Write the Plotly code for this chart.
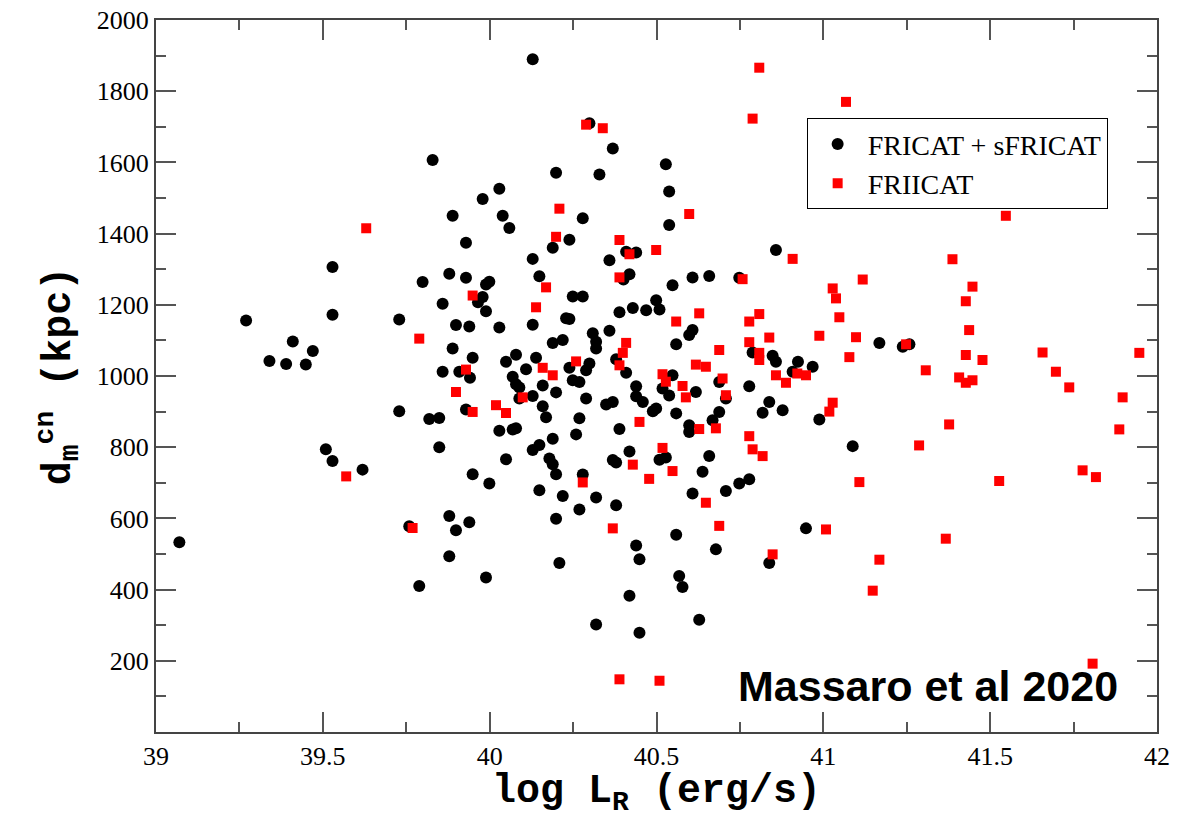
import plotly.graph_objects as go

# FRICAT + sFRICAT (black circles)
fri_logL = [39.829, 39.889, 39.929, 39.529, 39.799, 39.879, 39.929, 39.965, 39.859, 39.270,
            39.529, 39.729, 39.899, 39.939, 39.410, 39.470, 39.889, 39.949, 39.340, 39.390,
            39.449, 39.859, 39.909, 39.941, 39.729, 39.819, 39.849, 39.929, 39.509, 39.849,
            39.529, 39.619, 39.949, 39.879, 39.939, 39.759, 39.899, 39.879, 39.789, 39.070,
            40.129, 40.299, 40.369, 40.528, 40.199, 40.329, 40.029, 40.538, 39.979, 40.039,
            40.279, 40.059, 40.538, 40.239, 40.409, 40.439, 40.189, 40.359, 40.129, 40.858,
            40.149, 39.989, 39.999, 40.401, 40.419, 40.548, 40.608, 40.658, 40.748, 39.979,
            39.989, 40.249, 40.279, 40.389, 40.429, 40.469, 40.499, 40.509, 40.029, 40.129,
            40.229, 40.239, 40.359, 40.309, 40.319, 40.319, 40.559, 40.598, 40.608, 40.189,
            40.219, 40.788, 40.848, 40.858, 40.924, 40.049, 40.079, 40.139, 40.109, 40.239,
            40.299, 40.289, 40.379, 40.409, 40.548, 40.908, 40.069, 40.249, 40.269, 40.538,
            40.518, 40.618, 40.688, 40.708, 40.778, 40.079, 40.089, 40.089, 40.129, 40.159,
            40.199, 40.289, 40.439, 40.439, 40.459, 40.349, 40.369, 40.159, 40.169, 40.269,
            40.489, 40.499, 40.559, 40.688, 40.668, 40.818, 40.838, 40.878, 40.029, 40.069,
            40.079, 40.259, 40.389, 40.598, 40.598, 40.189, 40.129, 40.149, 40.179, 40.189,
            40.199, 40.049, 39.999, 40.419, 40.369, 40.379, 40.509, 40.528, 40.279, 40.658,
            40.638, 40.608, 40.708, 40.748, 40.778, 40.149, 40.219, 40.319, 40.269, 40.379,
            40.199, 40.559, 40.678, 40.838, 40.439, 40.449, 40.209, 39.989, 40.568, 40.578,
            40.419, 40.319, 40.628, 40.449, 41.168, 41.238, 41.258, 41.088, 40.988, 40.968,
            40.948]
fri_d = [1607, 1450, 1374, 1306, 1264, 1287, 1276, 1207, 1203, 1156,
         1172, 1159, 1143, 1139, 1097, 1070, 1077, 1051, 1042, 1034,
         1032, 1012, 1012, 995, 901, 879, 882, 906, 794, 800,
         761, 737, 724, 607, 589, 578, 567, 494, 410, 533,
         1890, 1710, 1639, 1595, 1571, 1566, 1526, 1518, 1497, 1450,
         1443, 1416, 1424, 1383, 1349, 1347, 1360, 1325, 1329, 1354,
         1280, 1257, 1265, 1271, 1286, 1255, 1277, 1281, 1276, 1222,
         1182, 1223, 1223, 1179, 1191, 1185, 1213, 1187, 1136, 1144,
         1162, 1160, 1127, 1120, 1096, 1077, 1089, 1115, 1129, 1093,
         1101, 1066, 1057, 1040, 1040, 1040, 1060, 1051, 1019, 1023,
         1035, 1016, 1047, 1009, 1002, 1012, 998, 988, 983, 945,
         965, 955, 983, 937, 971, 977, 968, 937, 944, 973,
         954, 937, 971, 943, 927, 920, 927, 915, 884, 881,
         901, 909, 895, 899, 876, 897, 927, 904, 846, 850,
         853, 836, 851, 862, 843, 824, 792, 806, 768, 752,
         724, 766, 698, 788, 764, 757, 765, 771, 723, 775,
         731, 670, 677, 698, 710, 679, 663, 659, 625, 637,
         599, 554, 513, 475, 524, 485, 475, 434, 438, 407,
         383, 302, 315, 279, 1093, 1082, 1089, 803, 878, 1026,
         572]

# FRIICAT (red squares)
frii_logL = [39.630, 39.949, 39.789, 39.929, 39.899, 39.949, 39.570, 39.769, 40.808, 40.289,
             40.339, 40.788, 40.209, 40.598, 40.199, 40.389, 40.419, 40.499, 40.908, 40.169,
             40.389, 40.758, 40.139, 40.559, 40.628, 40.778, 40.808, 40.838, 40.409, 40.399,
             40.688, 40.778, 40.808, 40.808, 40.159, 40.189, 40.259, 40.389, 40.518, 40.618,
             40.648, 40.858, 40.922, 40.698, 40.528, 40.578, 40.588, 40.708, 40.888, 40.099,
             40.019, 40.049, 40.449, 40.628, 40.678, 40.778, 40.788, 40.818, 40.429, 40.518,
             40.548, 40.478, 40.279, 40.648, 40.369, 40.688, 40.848, 40.389, 40.509, 41.547,
             41.118, 41.387, 41.028, 41.038, 41.447, 41.427, 41.048, 40.988, 41.098, 41.437,
             41.248, 41.078, 41.427, 41.477, 41.657, 41.947, 41.697, 41.737, 41.307, 41.407,
             41.427, 41.447, 41.897, 41.887, 41.377, 41.287, 41.527, 41.777, 41.817, 41.108,
             41.028, 41.018, 40.948, 41.008, 41.168, 41.148, 41.367, 41.807, 41.068]
frii_d = [1415, 1226, 1105, 1018, 955, 899, 718, 573, 1866, 1706,
          1696, 1723, 1470, 1455, 1391, 1382, 1342, 1354, 1329, 1249,
          1277, 1272, 1193, 1153, 1176, 1153, 1174, 1108, 1093, 1065,
          1073, 1095, 1065, 1045, 1023, 1002, 1041, 1030, 1005, 1032,
          1026, 1002, 1007, 993, 984, 972, 940, 946, 981, 940,
          918, 896, 871, 851, 853, 831, 794, 775, 751, 798,
          733, 711, 701, 644, 572, 579, 499, 148, 144, 1450,
          1271, 1328, 1246, 1218, 1251, 1210, 1165, 1113, 1109, 1129,
          1089, 1053, 1059, 1045, 1066, 1065, 1012, 968, 1016, 996,
          981, 988, 940, 850, 864, 805, 705, 735, 716, 702,
          925, 900, 1002, 569, 484, 397, 543, 192, 1770]

x_ticks = [39, 39.5, 40, 40.5, 41, 41.5, 42]
x_ticklabels = ["39", "39.5", "40", "40.5", "41", "41.5", "42"]
y_ticks = [200, 400, 600, 800, 1000, 1200, 1400, 1600, 1800, 2000]

fig = go.Figure()
fig.add_trace(go.Scatter(x=fri_logL, y=fri_d, mode="markers", name="FRICAT + sFRICAT",
                         marker=dict(symbol="circle", size=12, color="black", line=dict(width=0))))
fig.add_trace(go.Scatter(x=frii_logL, y=frii_d, mode="markers", name="FRIICAT",
                         marker=dict(symbol="square", size=10, color="#ff0000", line=dict(width=0))))

axis_common = dict(showgrid=False, zeroline=False, showline=True, linecolor="#444",
                   linewidth=2, ticks="inside", ticklen=20, tickwidth=2, tickcolor="#555",
                   mirror="ticks", automargin=False,
                   tickfont=dict(family="Liberation Serif, Times New Roman, serif", size=26, color="black"))

fig.update_xaxes(range=[39, 42], tickvals=x_ticks, ticktext=x_ticklabels,
                 minor=dict(ticks="inside", ticklen=10, tickwidth=2, tickcolor="#555", dtick=0.25, tick0=39),
                 title=dict(text="<b>log L<sub>R</sub> (erg/s)</b>",
                            font=dict(family="Liberation Mono", size=40, color="black"), standoff=2),
                 **axis_common)
fig.update_yaxes(range=[0, 2000], tickvals=y_ticks,
                 minor=dict(ticks="inside", ticklen=10, tickwidth=2, tickcolor="#555", dtick=100, tick0=0),
                 title=dict(text="<b>d<sub>m</sub><sup>cn</sup> (kpc)</b>",
                            font=dict(family="Liberation Mono", size=40, color="black"), standoff=14),
                 **axis_common)

fig.add_annotation(x=1.0 - (1157 - 1120) / 1001, y=(731.7 - 686) / 711.7, xref="paper", yref="paper",
                   text="<b>Massaro et al 2020</b>", showarrow=False, xanchor="right", yanchor="middle",
                   font=dict(family="Liberation Sans", size=43, color="black"))

fig.update_layout(
    width=1198, height=818,
    margin=dict(l=156, r=41, t=20, b=86),
    paper_bgcolor="white", plot_bgcolor="white",
    legend=dict(x=0.650, y=0.862, xanchor="left", yanchor="top",
                bordercolor="black", borderwidth=1, bgcolor="white",
                font=dict(family="Liberation Serif, Times New Roman, serif", size=28, color="black"),
                itemwidth=50, tracegroupgap=0),
    showlegend=True,
)

fig.write_html("out.html")
